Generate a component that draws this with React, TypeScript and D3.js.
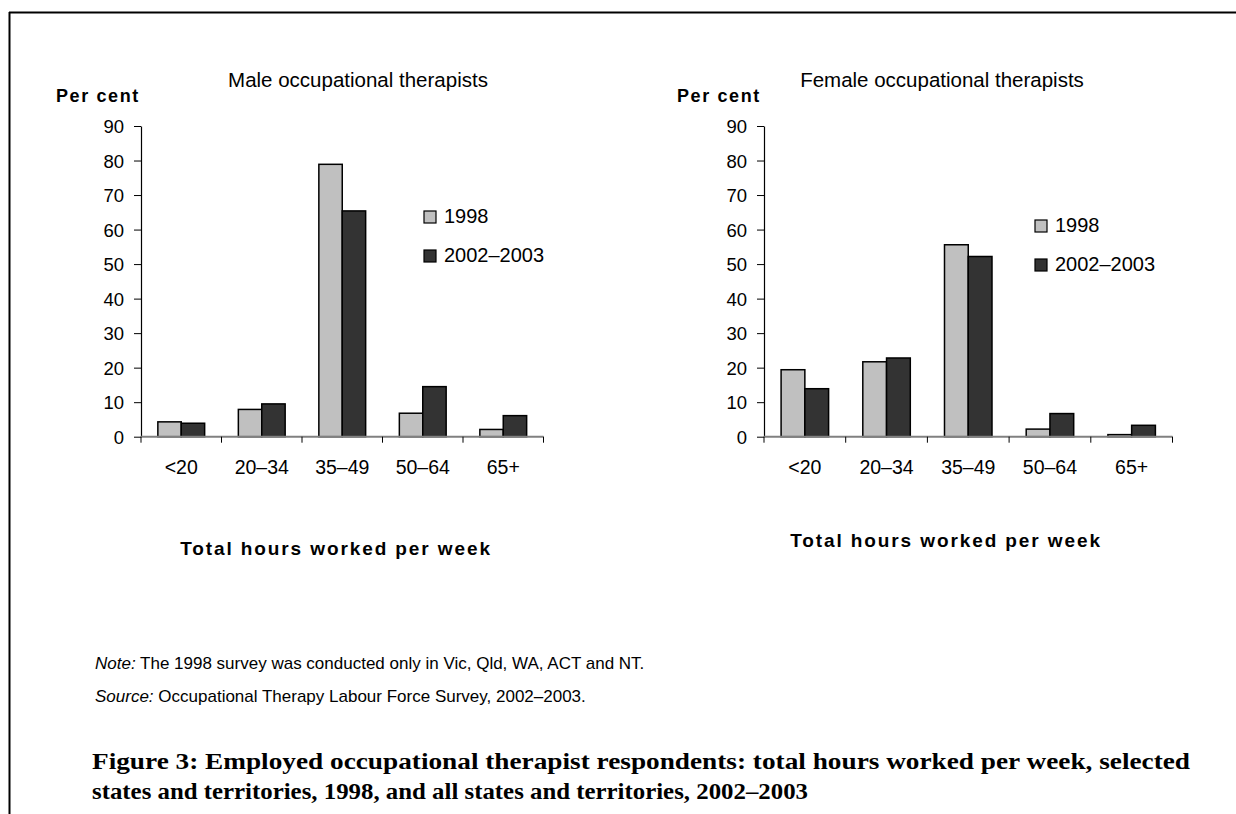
import React, { useEffect, useRef } from "react"
import * as d3 from "d3"

// hours-worked categories and the two survey series
const categories = ["<20", "20–34", "35–49", "50–64", "65+"]
const seriesNames = ["1998", "2002–2003"]
const male1998 = [4.3, 7.9, 78.9, 6.8, 2.1]
const male2002 = [3.9, 9.5, 65.4, 14.5, 6.1]
const female1998 = [19.4, 21.7, 55.6, 2.2, 0.6]
const female2002 = [13.9, 22.8, 52.2, 6.7, 3.3]
const yTicks = [0, 10, 20, 30, 40, 50, 60, 70, 80, 90]

const colors = ["#c0c0c0", "#333333"]
const sans = "Liberation Sans, Arial, sans-serif"

function drawPanel(svg, opts) {
  const { title, titleX, left, right, values, legendX, legendY, perCentX, axisTitleX, axisTitleY } = opts
  const top = 126
  const bottom = 436.7

  const g = svg.append("g")

  const x0 = d3.scaleBand().domain(categories).range([left, right]).padding(0)
  const x1 = d3
    .scaleBand()
    .domain(seriesNames)
    .range([0, x0.bandwidth()])
    .paddingInner(0)
    .paddingOuter(0.72)
  const y = d3.scaleLinear().domain([0, 90]).range([bottom, top])

  // bars
  seriesNames.forEach((s, si) => {
    g.selectAll(null)
      .data(categories)
      .enter()
      .append("rect")
      .attr("x", c => x0(c) + x1(s))
      .attr("y", (c, i) => y(values[si][i]))
      .attr("width", x1.bandwidth())
      .attr("height", (c, i) => bottom - y(values[si][i]))
      .attr("fill", colors[si])
      .attr("stroke", "#000")
      .attr("stroke-width", 1.5)
  })

  // y axis
  const yAxis = d3.axisLeft(y).tickValues(yTicks).tickSize(7).tickSizeOuter(0).tickPadding(10)
  const ya = g.append("g").attr("transform", `translate(${left},0)`).call(yAxis)
  ya.select(".domain").attr("stroke", "#000").attr("stroke-width", 1.2)
  ya.selectAll(".tick line").attr("stroke", "#000")
  ya.selectAll(".tick text")
    .attr("font-family", sans)
    .attr("font-size", 18.5)
    .attr("fill", "#000")
    .attr("dy", "0.36em")

  // x axis line + boundary ticks
  g.append("line")
    .attr("x1", left)
    .attr("x2", right)
    .attr("y1", bottom)
    .attr("y2", bottom)
    .attr("stroke", "#808080")
    .attr("stroke-width", 2)
  const bounds = categories.map(c => x0(c)).concat([right])
  g.selectAll(null)
    .data(bounds)
    .enter()
    .append("line")
    .attr("x1", d => d)
    .attr("x2", d => d)
    .attr("y1", bottom)
    .attr("y2", bottom + 6)
    .attr("stroke", "#000")
    .attr("stroke-width", 1)
  g.selectAll(null)
    .data(categories)
    .enter()
    .append("text")
    .attr("x", c => x0(c) + x0.bandwidth() / 2)
    .attr("y", 474)
    .attr("text-anchor", "middle")
    .attr("font-family", sans)
    .attr("font-size", 19.5)
    .text(c => c)

  // titles
  g.append("text")
    .attr("x", titleX)
    .attr("y", 87)
    .attr("text-anchor", "middle")
    .attr("font-family", sans)
    .attr("font-size", 20.5)
    .text(title)
  g.append("text")
    .attr("x", perCentX)
    .attr("y", 102)
    .attr("font-family", sans)
    .attr("font-size", 18)
    .attr("font-weight", "bold")
    .attr("letter-spacing", 1.6)
    .text("Per cent")
  g.append("text")
    .attr("x", axisTitleX)
    .attr("y", axisTitleY)
    .attr("text-anchor", "middle")
    .attr("font-family", sans)
    .attr("font-size", 19)
    .attr("font-weight", "bold")
    .attr("letter-spacing", 1.9)
    .text("Total hours worked per week")

  // legend
  seriesNames.forEach((s, si) => {
    const ly = legendY + si * 39
    g.append("rect")
      .attr("x", legendX)
      .attr("y", ly)
      .attr("width", 12)
      .attr("height", 12)
      .attr("fill", colors[si])
      .attr("stroke", "#000")
      .attr("stroke-width", 1.2)
    g.append("text")
      .attr("x", legendX + 20)
      .attr("y", ly + 12)
      .attr("font-family", sans)
      .attr("font-size", 20)
      .text(s)
  })
}

export default function App() {
  const ref = useRef(null)

  useEffect(() => {
    const svg = d3.select(ref.current)
    svg.selectAll("*").remove()

    // frame
    svg.append("line").attr("x1", 9).attr("x2", 1236).attr("y1", 12.5).attr("y2", 12.5).attr("stroke", "#000").attr("stroke-width", 2)
    svg.append("line").attr("x1", 9.5).attr("x2", 9.5).attr("y1", 12).attr("y2", 814).attr("stroke", "#000").attr("stroke-width", 2)

    drawPanel(svg, {
      title: "Male occupational therapists",
      titleX: 358,
      left: 141,
      right: 543.5,
      values: [male1998, male2002],
      legendX: 424,
      legendY: 211,
      perCentX: 56,
      axisTitleX: 336,
      axisTitleY: 555,
    })
    drawPanel(svg, {
      title: "Female occupational therapists",
      titleX: 942,
      left: 764,
      right: 1172.5,
      values: [female1998, female2002],
      legendX: 1035,
      legendY: 220,
      perCentX: 677,
      axisTitleX: 946,
      axisTitleY: 547,
    })

    // notes
    const note = svg.append("text").attr("x", 95).attr("y", 669).attr("font-family", sans).attr("font-size", 17)
    note.append("tspan").attr("font-style", "italic").text("Note:")
    note.append("tspan").text(" The 1998 survey was conducted only in Vic, Qld, WA, ACT and NT.")
    const src = svg.append("text").attr("x", 95).attr("y", 702).attr("font-family", sans).attr("font-size", 17)
    src.append("tspan").attr("font-style", "italic").text("Source:")
    src.append("tspan").text(" Occupational Therapy Labour Force Survey, 2002–2003.")

    // caption
    const serif = "Liberation Serif, Times New Roman, serif"
    svg.append("text")
      .attr("x", 92)
      .attr("y", 769)
      .attr("font-family", serif)
      .attr("font-weight", "bold")
      .attr("font-size", 23)
      .attr("textLength", 1098)
      .attr("lengthAdjust", "spacingAndGlyphs")
      .text("Figure 3: Employed occupational therapist respondents: total hours worked per week, selected")
    svg.append("text")
      .attr("x", 92)
      .attr("y", 799)
      .attr("font-family", serif)
      .attr("font-weight", "bold")
      .attr("font-size", 23)
      .attr("textLength", 716)
      .attr("lengthAdjust", "spacingAndGlyphs")
      .text("states and territories, 1998, and all states and territories, 2002–2003")
  }, [])

  return (
    <svg
      ref={ref}
      width={1236}
      height={814}
      style={{ position: "absolute", left: 0, top: 0, background: "#fff" }}
    />
  )
}
